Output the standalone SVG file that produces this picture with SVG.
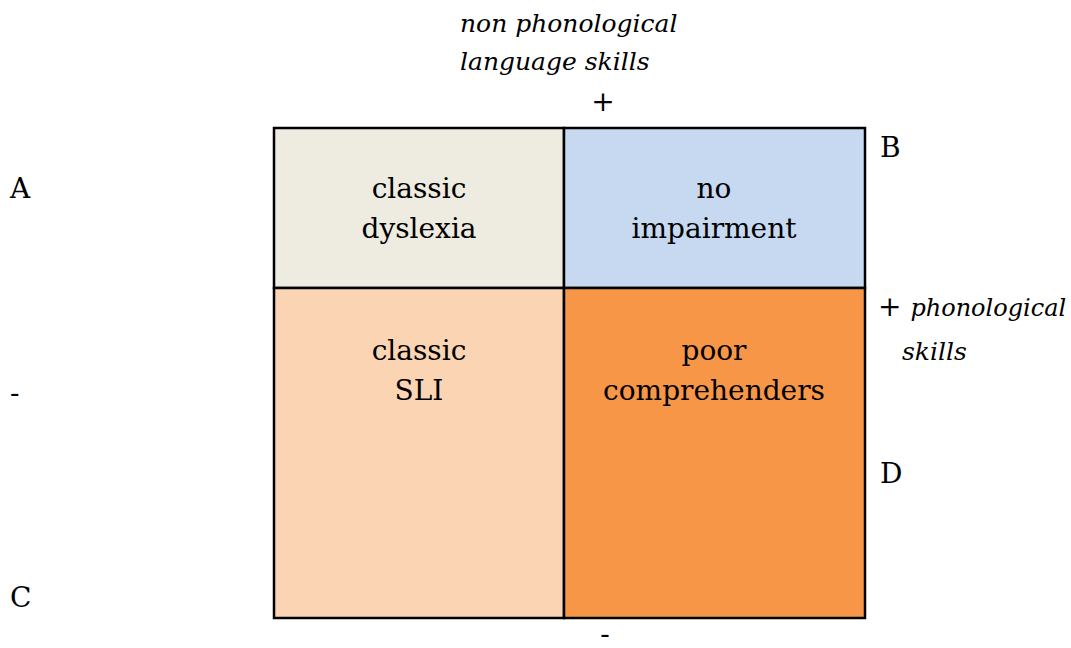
<svg xmlns="http://www.w3.org/2000/svg" width="1071" height="648" viewBox="0 0 1071 648">
<style>
text { font-family: "DejaVu Serif", "Liberation Serif", serif; font-size: 28px; fill: #000; }
.c { text-anchor: middle; }
.i { font-style: italic; font-size: 25px; }
.cell { stroke: #000; stroke-width: 2.5; }
</style>
<rect x="0" y="0" width="1071" height="648" fill="#fff"/>
<g id="classic-dyslexia">
<rect class="cell" x="274" y="128" width="290" height="160" fill="#EEEBE0"/>
<text class="c" x="419" y="198">classic</text>
<text class="c" x="419" y="238">dyslexia</text>
</g>
<g id="no-impairment">
<rect class="cell" x="564" y="128" width="301" height="160" fill="#C6D9F0"/>
<text class="c" x="714" y="198">no</text>
<text class="c" x="714" y="238">impairment</text>
</g>
<g id="classic-sli">
<rect class="cell" x="274" y="288" width="290" height="330" fill="#FBD4B4"/>
<text class="c" x="419" y="360">classic</text>
<text class="c" x="419" y="400">SLI</text>
</g>
<g id="poor-comprehenders">
<rect class="cell" x="564" y="288" width="301" height="330" fill="#F79646"/>
<text class="c" x="714" y="360">poor</text>
<text class="c" x="714" y="400">comprehenders</text>
</g>
<g id="connectors"></g>
<g id="labels">
<text class="i" x="460" y="32">non phonological</text>
<text class="i" x="460" y="70">language skills</text>
<text class="c" x="603" y="111">+</text>
<text class="c" x="605" y="643">-</text>
<text x="10" y="198">A</text>
<text x="10" y="402">-</text>
<text x="10" y="607">C</text>
<text x="880" y="157">B</text>
<text x="880" y="483">D</text>
<text x="878" y="316">+ <tspan class="i" style="font-size:24px">phonological</tspan></text>
<text class="i" x="902" y="360">skills</text>
</g>
</svg>
